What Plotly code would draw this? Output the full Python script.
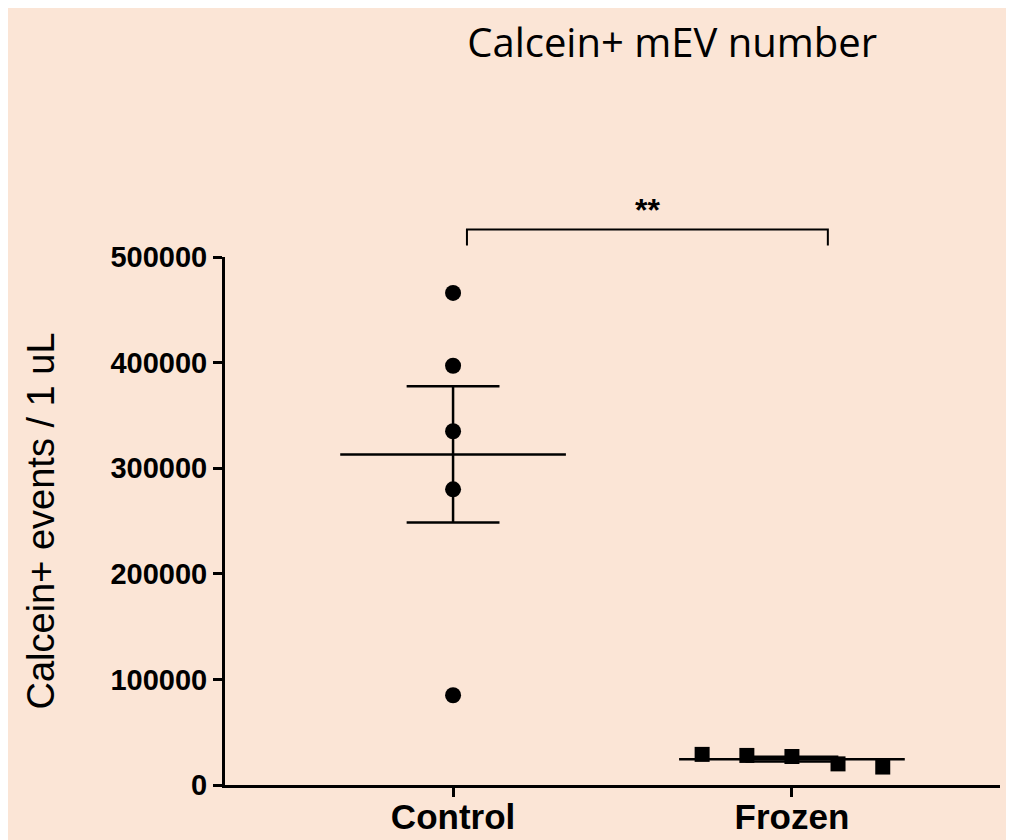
import plotly.graph_objects as go

categories = ["Control", "Frozen"]
control_vals = [466000, 397000, 335000, 280000, 85000]
frozen_vals = [29000, 28000, 27000, 20000, 17000]
control_mean, control_sem = 313000, 64500
frozen_mean, frozen_sem = 24500, 2300
y_ticks = [0, 100000, 200000, 300000, 400000, 500000]

bg = "#FBE5D6"
frozen_offsets = [-0.265, -0.133, 0, 0.136, 0.268]

fig = go.Figure()
fig.add_trace(go.Scatter(x=[1] * len(control_vals), y=control_vals, mode="markers",
                         marker=dict(symbol="circle", size=16, color="black"), cliponaxis=False))
fig.add_trace(go.Scatter(x=[2 + o for o in frozen_offsets], y=frozen_vals, mode="markers",
                         marker=dict(symbol="square", size=15, color="black"), cliponaxis=False))

# mean lines and SEM bars
for xc, m, s in [(1, control_mean, control_sem), (2, frozen_mean, frozen_sem)]:
    fig.add_trace(go.Scatter(x=[xc - 0.333, xc + 0.333], y=[m, m], mode="lines",
                             line=dict(color="black", width=2.5)))
    fig.add_trace(go.Scatter(x=[xc, xc], y=[m - s, m + s], mode="lines",
                             line=dict(color="black", width=2.5)))
    for yv in (m - s, m + s):
        fig.add_trace(go.Scatter(x=[xc - 0.137, xc + 0.137], y=[yv, yv], mode="lines",
                                 line=dict(color="black", width=2.5)))

# significance bracket
fig.add_shape(type="path", xref="x", yref="paper",
              path="M 1.041,1.022 L 1.041,1.052 L 2.106,1.052 L 2.106,1.022",
              line=dict(color="black", width=2))
fig.add_annotation(x=1.573, y=1.052, xref="x", yref="paper", text="<b>**</b>", showarrow=False,
                   yanchor="bottom", font=dict(size=32, color="black", family="Liberation Sans"))

fig.update_layout(
    width=1014, height=840, showlegend=False,
    paper_bgcolor=bg, plot_bgcolor=bg,
    margin=dict(l=217, r=22, t=249, b=63),
    title=dict(text="Calcein+ mEV number", x=0.655, xanchor="center", y=0.975,
               font=dict(size=40, color="black", family="Open Sans")),
    xaxis=dict(range=[0.327, 2.614], tickvals=[1, 2], ticktext=categories, automargin=False,
               showgrid=False, zeroline=False, showline=True, linecolor="black", linewidth=3,
               ticks="outside", ticklen=9, tickwidth=3, tickcolor="black", ticklabelstandoff=-10,
               tickfont=dict(size=35, color="black", family="Liberation Sans", weight="bold"),
               title=None),
    yaxis=dict(range=[0, 500000], tickvals=y_ticks, ticktext=[str(v) for v in y_ticks],
               showgrid=False, zeroline=False, showline=True, linecolor="black", linewidth=3,
               ticks="outside", ticklen=9, tickwidth=3, tickcolor="black",
               tickfont=dict(size=29, color="black", family="Liberation Sans", weight="bold"),
               title=dict(text="Calcein+ events / 1 uL", standoff=45,
                          font=dict(size=38, color="black", family="Liberation Sans"))),
)

fig.write_html("out.html")
